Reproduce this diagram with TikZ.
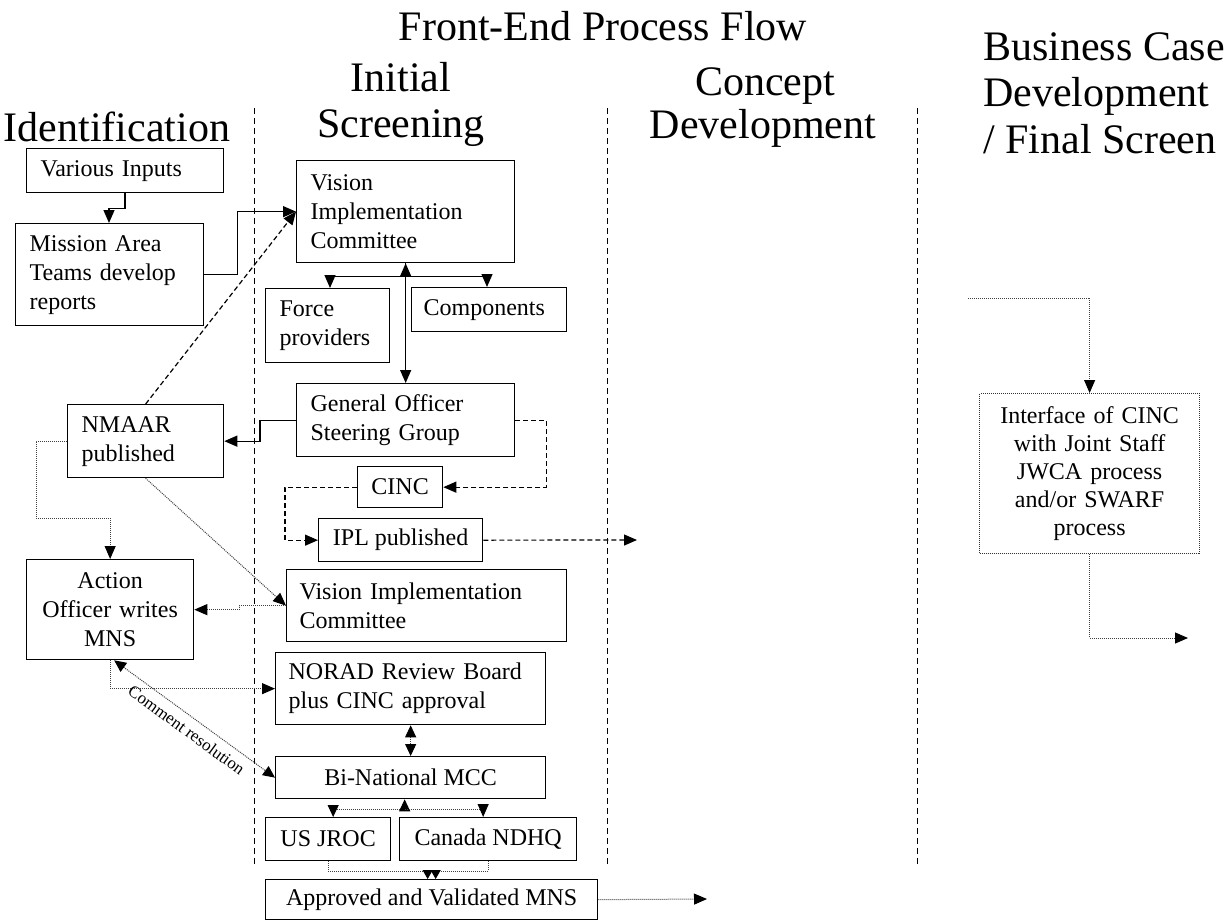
\documentclass[tikz,border=0pt]{standalone}
\usepackage{fontspec}
\setmainfont{Liberation Serif}
\usetikzlibrary{arrows.meta,calc}
\begin{document}
\begin{tikzpicture}[x=1pt,y=-1pt,
  box/.style={draw, line width=1.3pt, anchor=north west, inner xsep=14pt, inner ysep=0pt, font=\fontsize{24}{29}\selectfont},
  lbox/.style={box, align=left},
  cbox/.style={box, align=center},
  hdr/.style={font=\fontsize{42}{48}\selectfont, anchor=base, inner sep=0pt},
  tip/.style={-{Triangle[length=13pt,width=11pt,color=black]}},
  stip/.style={-{Triangle[length=9pt,width=10pt,color=black]}},
  tipboth/.style={{Triangle[length=12pt,width=11pt,color=black]}-{Triangle[length=12pt,width=11pt,color=black]}},
  solidc/.style={line width=1.3pt},
  dashc/.style={line width=1.2pt, dash pattern=on 5pt off 3pt},
  dotc/.style={line width=1pt, dash pattern=on 1pt off 1pt, black!75},
  colsep/.style={line width=1pt, dash pattern=on 6pt off 4pt}
]
\useasboundingbox (0,0) rectangle (1230,921);

% headers
\node[hdr] (title) at (603,40) {Front-End Process Flow};
\node[hdr] (h1) at (117,141) {Identification};
\node[hdr] (h2a) at (401,91) {Initial};
\node[hdr] (h2b) at (401,137) {Screening};
\node[hdr] (h3a) at (765,95) {Concept};
\node[hdr] (h3b) at (763,138) {Development};
\node[hdr, anchor=base west] (h4a) at (983,60) {Business Case};
\node[hdr, anchor=base west] (h4b) at (983,106) {Development};
\node[hdr, anchor=base west] (h4c) at (983,153) {/ Final Screen};

% column separators
\draw[colsep] (254,108) -- (254,866);
\draw[colsep] (607,108) -- (607,867);
\draw[colsep] (917,108) -- (917,866);

% boxes
\node[lbox, text width=169pt, minimum height=44pt] (various) at (26,148) {Various Inputs};
\node[lbox, text width=160pt, minimum height=102pt] (mission) at (15,223) {Mission Area\\Teams develop\\reports};
\node[lbox, text width=190pt, minimum height=102pt] (vision) at (296,160) {Vision\\Implementation\\Committee};
\node[lbox, text width=96pt, minimum height=74pt] (force) at (265,288) {Force\\providers};
\node[lbox, inner xsep=12pt, text width=131pt, minimum height=44pt] (comps) at (411,287) {Components};
\node[lbox, text width=190pt, minimum height=73pt] (go) at (296,383) {General Officer\\Steering Group};
\node[lbox, text width=128pt, minimum height=73pt] (nmaar) at (67,404) {NMAAR\\published};
\node[cbox, inner xsep=4pt, minimum width=85pt, minimum height=41pt] (cinc) at (357,466) {CINC};
\node[cbox, minimum width=164pt, minimum height=43pt] (ipl) at (318,518) {IPL published};
\node[lbox, inner xsep=13pt, text width=254pt, minimum height=72pt] (vic2) at (286,569) {Vision Implementation\\Committee};
\node[cbox, inner xsep=6pt, text width=155pt, minimum height=100pt] (action) at (26,559) {Action\\Officer writes\\MNS};
\node[lbox, inner xsep=13pt, text width=244pt, minimum height=72pt] (norad) at (275,652) {NORAD Review Board\\plus CINC approval};
\node[cbox, minimum width=270pt, minimum height=42pt] (mcc) at (275,756) {Bi-National MCC};
\node[cbox, inner xsep=4pt, minimum width=125pt, minimum height=43pt] (jroc) at (265,817) {US JROC};
\node[cbox, inner xsep=4pt, minimum width=177pt, minimum height=43pt] (ndhq) at (399,817) {Canada NDHQ};
\node[cbox, inner xsep=4pt, minimum width=332pt, minimum height=40pt] (approved) at (265,879) {Approved and Validated MNS};
\node[cbox, font=\fontsize{24}{28}\selectfont, draw=black!80, line width=1.2pt, dash pattern=on 1pt off 1pt, text width=192pt, minimum height=160pt] (iface) at (979,393) {Interface of CINC\\with Joint Staff\\JWCA process\\and/or SWARF\\process};

% free ends
\coordinate (iplout) at (637,540);
\coordinate (apout) at (707,899);
\coordinate (bcin) at (968,298);
\coordinate (bcout) at (1188,638);

% connectors: identification
\draw[solidc, tip] ([xshift=99pt]various.south west) -- ++(0,15) -| ([xshift=94pt]mission.north west);
\draw[solidc, tip] (mission.east) -- ++(33,0) |- (vision.west);
\draw[dashc, tip] (nmaar.north) -- (vision.west);

% vision fan-out
\draw[solidc, tip] ([yshift=-13pt]vision.south) -- (vision.south);
\draw[solidc, tip] ([yshift=-13pt]vision.south) -| ([xshift=65pt]force.north west);
\draw[solidc, tip] ([yshift=-13pt]vision.south) -| ([xshift=76pt]comps.north west);
\draw[solidc, tip] (vision.south) -- (go.north);

% general officer
\draw[solidc, tip] (go.west) -- ++(-36,0) |- (nmaar.east);
\draw[dashc, tip] (go.east) -- ++(31,0) |- (cinc.east);
\draw[dashc, tip] (cinc.west) -- ++(-72,0) |- (ipl.west);
\draw[dashc, tip] (ipl.east) -- (iplout);

% NMAAR dotted
\draw[dotc, tip] (nmaar.west) -- ++(-31,0) -- ++(0,77) -| (action.north);
\draw[dotc, tip] (nmaar.south) -- (vic2.west);
\draw[dotc, tip] (vic2.west) -- ++(-47,0) |- (action.east);

% action officer
\draw[dotc, tip] (action.south) |- (norad.west);
\draw[dotc, tipboth] ([xshift=4pt]action.south) -- node[sloped, below, pos=0.5, inner sep=7pt, text=black, font=\fontsize{17}{19}\selectfont] {Comment resolution} (mcc.west);

% review chain
\draw[dotc, tipboth] (norad.south) -- (mcc.north);
\draw[dotc, tipboth] ([xshift=-6pt]mcc.south) -- ++(0,10) -| ([xshift=5pt]jroc.north);
\draw[dotc, tip] ([xshift=-6pt,yshift=-10pt]mcc.south) -| ([xshift=-5pt]ndhq.north);
\draw[dotc, stip] (jroc.south) -- ++(0,10) -| ([xshift=-4pt]approved.north);
\draw[dotc, stip] (ndhq.south) -- ++(0,10) -| ([xshift=4pt]approved.north);
\draw[dotc, tip] (approved.east) -- (apout);

% business case
\draw[dotc, tip] (bcin) -| (iface.north);
\draw[dotc, tip] (iface.south) |- (bcout);

\end{tikzpicture}
\end{document}
